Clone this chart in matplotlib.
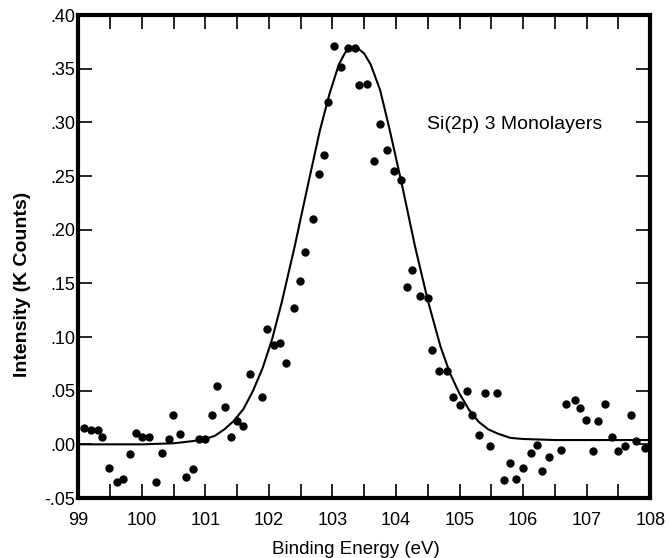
import matplotlib
matplotlib.use("Agg")
import matplotlib.pyplot as plt
from matplotlib.ticker import FixedLocator, FixedFormatter, MultipleLocator

# measured points, binding energy (eV) / intensity (K counts)
energy = [99.09, 99.20, 99.31, 99.38, 99.48, 99.61, 99.71, 99.81, 99.91, 100.01,
          100.11, 100.22, 100.31, 100.42, 100.49, 100.60, 100.70, 100.81, 100.90, 101.00,
          101.10, 101.18, 101.31, 101.41, 101.49, 101.59, 101.70, 101.89, 101.97, 102.08,
          102.18, 102.27, 102.39, 102.49, 102.57, 102.69, 102.78, 102.86, 102.93, 103.03,
          103.13, 103.24, 103.36, 103.42, 103.54, 103.66, 103.75, 103.85, 103.96, 104.08,
          104.17, 104.25, 104.37, 104.50, 104.57, 104.67, 104.80, 104.89, 105.00, 105.11,
          105.19, 105.30, 105.40, 105.48, 105.59, 105.70, 105.80, 105.89, 106.00, 106.12,
          106.22, 106.29, 106.40, 106.60, 106.68, 106.81, 106.89, 106.99, 107.10, 107.18,
          107.28, 107.40, 107.49, 107.61, 107.70, 107.78, 107.91]
intensity = [0.015, 0.013, 0.013, 0.007, -0.022, -0.035, -0.032, -0.009, 0.011, 0.007,
             0.007, -0.035, -0.008, 0.005, 0.027, 0.010, -0.030, -0.023, 0.005, 0.005,
             0.027, 0.054, 0.035, 0.007, 0.022, 0.017, 0.066, 0.044, 0.107, 0.093,
             0.094, 0.076, 0.127, 0.152, 0.179, 0.210, 0.252, 0.270, 0.319, 0.371,
             0.352, 0.369, 0.369, 0.335, 0.336, 0.264, 0.298, 0.274, 0.255, 0.246,
             0.147, 0.162, 0.138, 0.136, 0.088, 0.068, 0.068, 0.044, 0.037, 0.050,
             0.027, 0.009, 0.048, -0.002, 0.048, -0.033, -0.017, -0.032, -0.022, -0.008,
             -0.001, -0.025, -0.012, -0.005, 0.038, 0.041, 0.034, 0.023, -0.006, 0.022,
             0.038, 0.007, -0.006, -0.002, 0.027, 0.003, -0.003]

# fitted curve
fit_energy = [99.0, 100.0, 100.5, 100.8, 101.0, 101.15, 101.3, 101.45, 101.6, 101.75,
              101.9, 102.05, 102.2, 102.4, 102.6, 102.8, 102.95, 103.1, 103.2, 103.3,
              103.4, 103.5, 103.6, 103.75, 103.9, 104.1, 104.3, 104.5, 104.7, 104.85,
              105.0, 105.15, 105.3, 105.45, 105.6, 105.8, 106.0, 106.5, 107.0, 108.0]
fit_intensity = [0.000, 0.000, 0.001, 0.003, 0.005, 0.008, 0.014, 0.022, 0.033, 0.050,
                 0.071, 0.098, 0.132, 0.183, 0.238, 0.292, 0.326, 0.354, 0.365, 0.370,
                 0.369, 0.364, 0.354, 0.330, 0.293, 0.240, 0.184, 0.134, 0.091, 0.066,
                 0.047, 0.032, 0.021, 0.014, 0.010, 0.006, 0.005, 0.004, 0.004, 0.004]

xtick_vals = [99, 100, 101, 102, 103, 104, 105, 106, 107, 108]
xtick_labels = ["99", "100", "101", "102", "103", "104", "105", "106", "107", "108"]
ytick_vals = [-0.05, 0.0, 0.05, 0.10, 0.15, 0.20, 0.25, 0.30, 0.35, 0.40]
ytick_labels = ["-.05", ".00", ".05", ".10", ".15", ".20", ".25", ".30", ".35", ".40"]

plt.rcParams['font.family'] = ['Liberation Sans', 'DejaVu Sans']

fig = plt.figure(figsize=(6.69, 5.58), dpi=100)
ax = fig.add_axes([0.117, 0.1075, 0.855, 0.8656])

ax.plot(fit_energy, fit_intensity, color='black', lw=1.5)
ax.plot(energy, intensity, marker='o', linestyle='None', color='black', ms=5)

ax.set_xlim(99, 108)
ax.set_ylim(-0.05, 0.40)

ax.xaxis.set_major_locator(FixedLocator(xtick_vals))
ax.xaxis.set_major_formatter(FixedFormatter(xtick_labels))
ax.xaxis.set_minor_locator(MultipleLocator(0.5))
ax.yaxis.set_major_locator(FixedLocator(ytick_vals))
ax.yaxis.set_major_formatter(FixedFormatter(ytick_labels))

ax.tick_params(which='both', direction='in', top=True, right=True, length=10, width=1.2)
ax.tick_params(axis='x', which='major', labelsize=13, pad=10)
ax.tick_params(axis='y', which='major', labelsize=13, pad=2)

for s in ax.spines.values():
    s.set_linewidth(3)

ax.set_xlabel('Binding Energy (eV)', fontsize=13.5, va='center')
ax.xaxis.set_label_coords(0.486, -0.106)
ax.set_ylabel('Intensity (K Counts)', fontsize=14, fontweight='bold', va='center')
ax.yaxis.set_label_coords(-0.098, 0.443)

ax.text(0.6105, 0.774, 'Si(2p) 3 Monolayers', transform=ax.transAxes,
        fontsize=14, va='center', ha='left')

fig.savefig('out.png', dpi=100)
